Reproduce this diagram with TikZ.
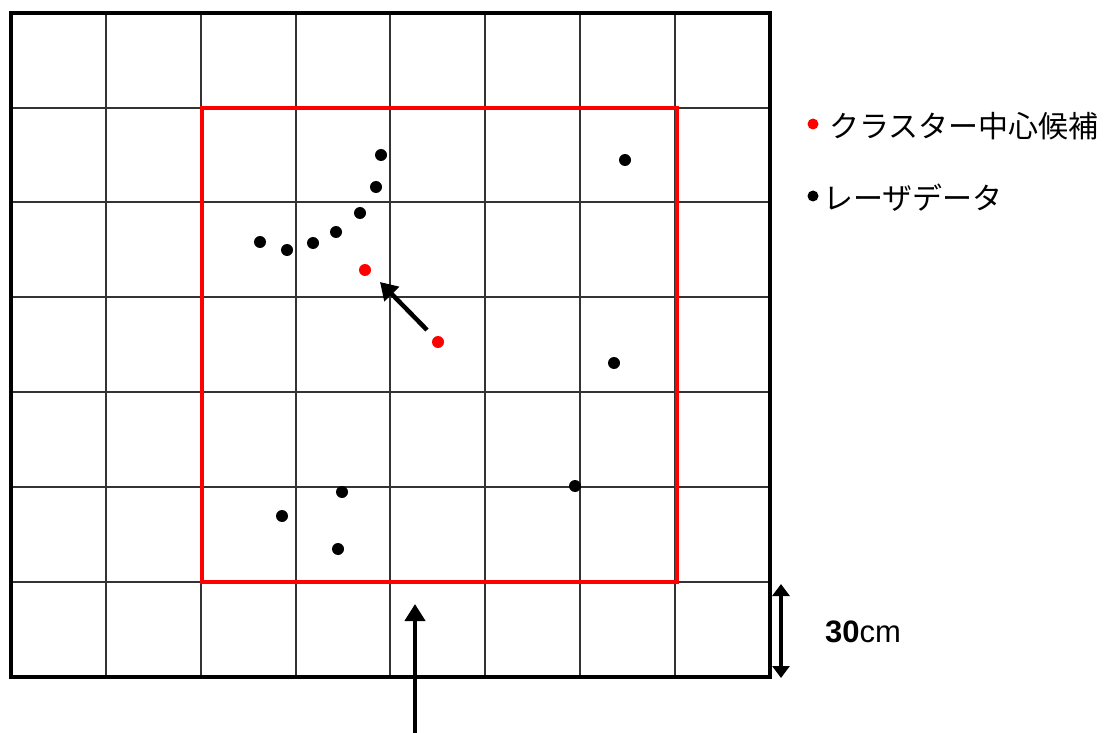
\documentclass[tikz,border=0pt]{standalone}
\usepackage{fontspec}
\setmainfont{Liberation Sans}
\newfontfamily\jpfont{Noto Sans CJK JP}
\usetikzlibrary{arrows.meta}
\definecolor{rd}{RGB}{255,0,0}
\tikzset{
  gridline/.style={line width=2pt, black!80},
  frame/.style={line width=3.5pt, black},
  redbox/.style={line width=4pt, rd},
  pt/.style={circle, fill=black, inner sep=0pt, minimum size=12pt},
  rpt/.style={circle, fill=rd, inner sep=0pt, minimum size=12pt},
  arr/.style={line width=4.5pt, -{Triangle[length=17pt,width=20pt]}},
  legend/.style={anchor=west, inner sep=0pt, font=\jpfont\fontsize{30}{30}\selectfont},
}
\begin{document}
\begin{tikzpicture}[x=1pt,y=-1pt]
\useasboundingbox (0,0) rectangle (1104,733);
\fill[white] (0,0) rectangle (1104,733);
% grid
\foreach \x in {106,201,296,390,485,580,675}
  \draw[gridline] (\x,13) -- (\x,677);
\foreach \y in {108,202,297,392,487,582}
  \draw[gridline] (11,\y) -- (770,\y);
\draw[frame] (11,677) -- (11,13) -- (770,13) -- (770,677) -- cycle;
% red square
\draw[redbox] (202,108) rectangle (677,582);
% laser data
\node[pt] (d1) at (381,155) {};
\node[pt] (d2) at (376,187) {};
\node[pt] (d3) at (360,213) {};
\node[pt] (d4) at (336,232) {};
\node[pt] (d5) at (313,243) {};
\node[pt] (d6) at (287,250) {};
\node[pt] (d7) at (260,242) {};
\node[pt] (d8) at (625,160) {};
\node[pt] (d9) at (614,363) {};
\node[pt] (d10) at (575,486) {};
\node[pt] (d11) at (342,492) {};
\node[pt] (d12) at (282,516) {};
\node[pt] (d13) at (338,549) {};
% cluster centre candidates
\node[rpt] (c1) at (365,270) {};
\node[rpt] (c2) at (438,342) {};
\coordinate (a1s) at (427,330);
\coordinate (a1e) at (380,282);
\draw[arr] (a1s) -- (a1e);
% bottom arrow
\coordinate (bs) at (415,735);
\coordinate (be) at (415,604);
\draw[arr] (bs) -- (be);
% scale arrow
\coordinate (s1) at (781,584);
\coordinate (s2) at (781,678);
\draw[line width=4.5pt, {Triangle[length=12pt,width=17pt]}-{Triangle[length=12pt,width=17pt]}] (s1) -- (s2);
\node[anchor=west, inner sep=0pt, font=\fontsize{31}{31}\selectfont] (lbl) at (825,632) {\textbf{30}cm};
% legend
\node[rpt, minimum size=11pt] (lr) at (813,124) {};
\node[legend] (lt1) at (829,126) {クラスター中心候補};
\node[pt, minimum size=11pt] (lb) at (813,196) {};
\node[legend] (lt2) at (823,198) {レーザデータ};
\end{tikzpicture}
\end{document}
